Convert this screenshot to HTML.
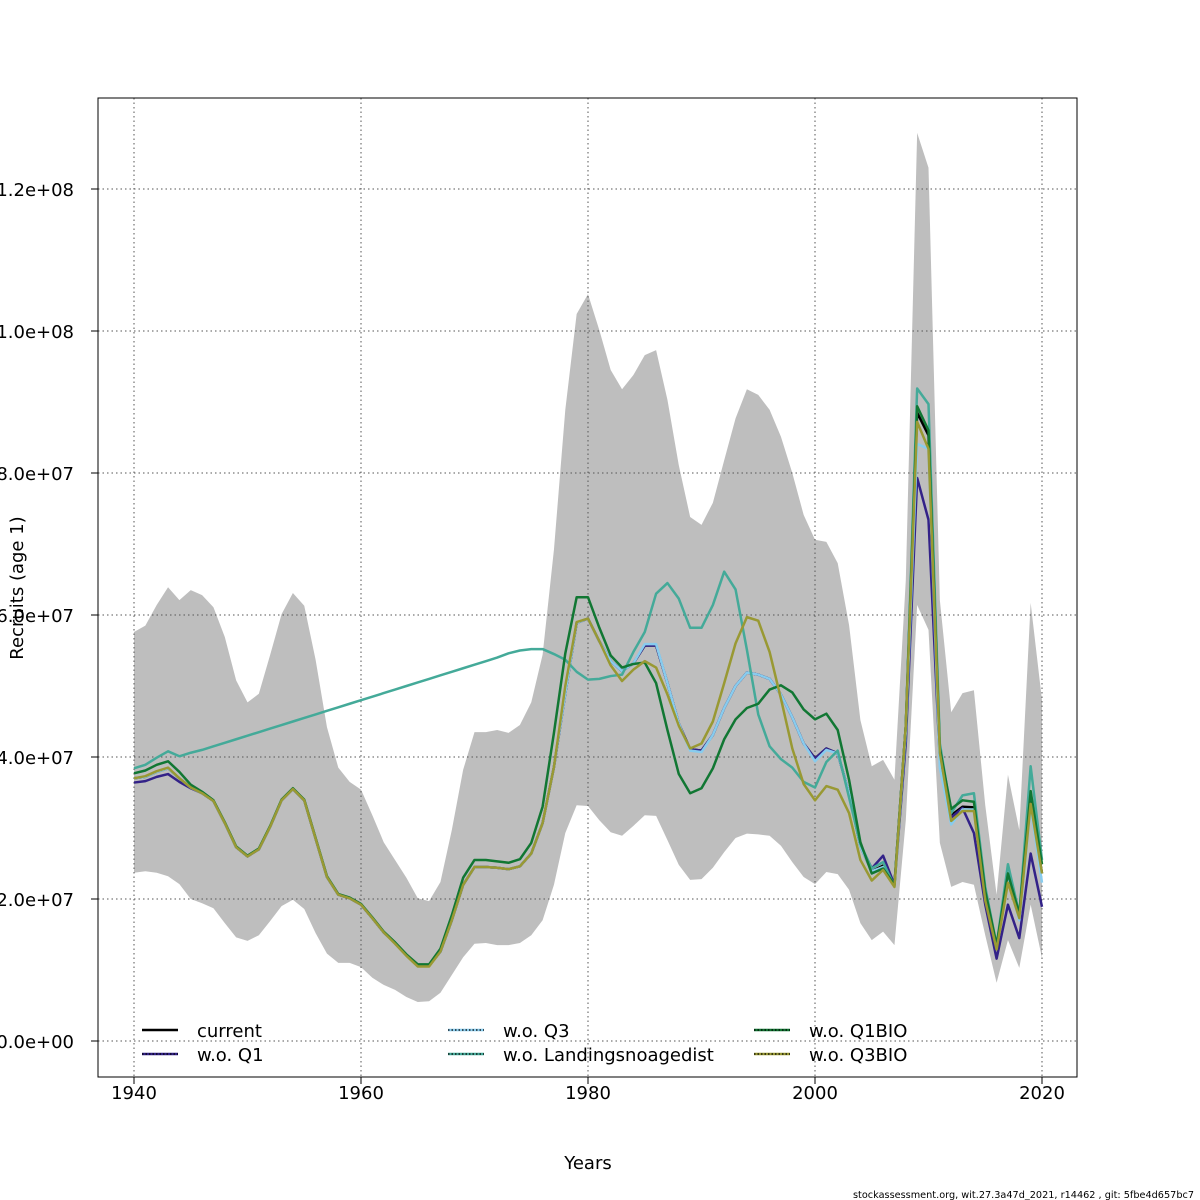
<!DOCTYPE html>
<html><head><meta charset="utf-8"><style>
html,body{margin:0;padding:0;background:#fff;}
svg{display:block;font-family:"DejaVu Sans","Liberation Sans",sans-serif;}
</style></head><body>
<svg id="chart" width="1200" height="1200" viewBox="0 0 1200 1200" xmlns="http://www.w3.org/2000/svg">
<rect width="1200" height="1200" fill="#fff"/>
<g id="band"></g><g id="grid"></g><g id="lines"></g><g id="axes"></g><g id="legend"></g>
<text x="0" y="0" transform="translate(23,588) rotate(-90)" text-anchor="middle" font-size="18">Recruits (age 1)</text>
<text x="588" y="1169" text-anchor="middle" font-size="18">Years</text>
<text x="853" y="1198" font-size="10" textLength="341" lengthAdjust="spacingAndGlyphs">stockassessment.org, wit.27.3a47d_2021, r14462 , git: 5fbe4d657bc7</text>
</svg>
<script>
const years=[];for(let y=1940;y<=2020;y++)years.push(y);
const current=[37.0,37.2,37.9,38.4,37.0,35.7,34.9,33.8,30.7,27.3,26.0,27.0,30.2,33.9,35.5,33.9,28.5,23.1,20.6,20.1,19.2,17.3,15.3,13.8,12.1,10.6,10.6,12.6,17.0,22.0,24.5,24.5,24.4,24.2,24.6,26.4,30.7,38.6,49.0,58.9,59.5,56.3,53.5,52.1,53.2,55.7,55.7,50.4,44.7,41.1,40.9,43.1,46.9,50.0,51.9,51.6,51.0,48.8,45.6,41.9,39.8,41.2,40.5,34.9,27.4,23.9,24.7,22.0,44.4,88.5,85.3,40.6,31.8,33.0,32.9,20.4,13.5,23.0,17.3,33.7,23.6];
const woQ1=[36.4,36.6,37.2,37.6,36.5,35.6,34.9,33.8,30.7,27.3,26.0,27.0,30.2,33.9,35.5,33.9,28.5,23.1,20.6,20.1,19.2,17.3,15.3,13.8,12.1,10.6,10.6,12.6,17.0,22.0,24.5,24.5,24.4,24.2,24.6,26.4,30.7,38.6,49.0,58.9,59.5,56.3,53.5,52.1,53.2,55.7,55.7,50.4,44.7,41.1,40.9,43.1,46.9,50.0,51.9,51.6,51.0,48.8,45.6,41.9,39.8,41.2,40.5,34.9,27.6,24.3,26.1,22.0,42.0,79.3,73.4,39.5,31.5,32.8,29.3,19.2,11.6,19.2,14.5,26.4,18.9];
const woQ3=[37.0,37.2,37.9,38.4,37.0,35.7,34.9,33.8,30.7,27.3,26.0,27.0,30.2,33.9,35.5,33.9,28.5,23.1,20.6,20.1,19.2,17.3,15.3,13.8,12.1,10.6,10.6,12.6,17.0,22.0,24.5,24.5,24.4,24.2,24.6,26.4,30.7,38.6,49.0,58.9,59.5,56.3,53.5,52.1,53.2,55.9,55.9,50.4,44.7,40.9,40.7,43.1,46.9,50.0,51.9,51.6,51.0,48.8,45.6,41.9,39.4,41.0,40.5,34.9,27.4,23.9,24.5,21.8,43.5,84.1,83.4,38.5,30.5,32.6,32.6,20.4,13.5,23.0,17.0,33.0,22.3];
const woLand=[38.4,38.9,39.9,40.8,40.1,40.6,41.0,41.5,42.0,42.5,43.0,43.5,44.0,44.5,45.0,45.5,46.0,46.5,47.0,47.5,48.0,48.5,49.0,49.5,50.0,50.5,51.0,51.5,52.0,52.5,53.0,53.5,54.0,54.6,55.0,55.2,55.2,54.5,53.7,52.0,50.9,51.0,51.4,51.6,54.8,57.6,63.0,64.5,62.3,58.2,58.2,61.4,66.1,63.6,55.1,46.0,41.5,39.7,38.5,36.5,35.7,39.3,40.9,34.3,27.7,24.3,25.2,21.8,44.4,91.9,89.7,41.9,32.1,34.6,34.9,21.7,13.5,24.9,17.9,38.7,25.5];
const woQ1BIO=[37.7,38.1,38.9,39.4,37.9,36.1,35.1,33.9,30.8,27.4,26.1,27.1,30.3,34.0,35.6,34.0,28.6,23.2,20.7,20.2,19.3,17.4,15.4,13.9,12.2,10.8,10.8,13.0,17.7,23.0,25.5,25.5,25.3,25.1,25.6,27.9,33.0,43.4,54.6,62.5,62.5,58.2,54.3,52.6,53.1,53.3,50.4,43.8,37.6,34.9,35.6,38.4,42.5,45.3,46.9,47.5,49.5,50.1,49.1,46.7,45.3,46.1,43.8,36.8,28.0,23.6,24.3,22.0,44.4,89.4,86.0,41.2,32.7,33.9,33.7,21.1,13.5,23.6,17.9,35.2,24.9];
const woQ3BIO=[37.0,37.3,38.0,38.5,37.0,35.7,34.9,33.8,30.7,27.3,26.0,27.0,30.2,33.9,35.5,33.9,28.5,23.1,20.6,20.1,19.2,17.3,15.3,13.7,12.0,10.5,10.5,12.6,17.0,22.0,24.5,24.5,24.4,24.2,24.6,26.4,30.7,38.6,50.0,59.0,59.5,56.3,52.9,50.7,52.3,53.5,52.6,48.8,44.4,41.2,41.9,45.0,50.4,56.0,59.7,59.2,54.8,48.2,41.2,36.2,33.9,35.9,35.4,32.1,25.5,22.6,24.1,21.7,44.4,87.2,83.4,40.6,31.0,32.4,32.4,19.8,12.9,22.3,17.3,33.4,23.6];
const ciUpper=[57.6,58.5,61.4,63.9,62.1,63.5,62.8,61.1,56.9,50.8,47.7,48.9,54.4,60.1,63.1,61.3,53.7,44.2,38.5,36.5,35.4,31.8,28.0,25.5,23.0,20.1,19.7,22.4,29.7,38.2,43.5,43.5,43.8,43.4,44.5,47.7,54.4,69.2,88.9,102.4,105.2,100.1,94.5,91.8,93.8,96.6,97.3,90.3,81.1,73.8,72.7,75.8,81.8,87.7,91.8,91.0,88.9,85.1,80.0,74.1,70.6,70.3,67.3,58.6,45.2,38.7,39.6,36.8,64.9,127.9,123.0,62.1,46.3,49.0,49.4,33.2,20.6,37.5,29.7,61.7,48.0];
const ciLower=[23.7,23.9,23.7,23.2,22.1,20.0,19.4,18.7,16.6,14.6,14.1,14.9,16.9,19.0,19.9,18.6,15.2,12.3,11.0,11.0,10.4,8.9,7.9,7.2,6.2,5.5,5.6,6.8,9.3,11.8,13.7,13.8,13.5,13.5,13.8,14.9,17.0,22.0,29.3,33.2,33.1,31.1,29.4,28.9,30.3,31.8,31.7,28.3,24.8,22.7,22.8,24.4,26.6,28.6,29.2,29.1,28.9,27.5,25.2,23.1,22.1,23.8,23.5,21.3,16.6,14.2,15.4,13.5,31.1,61.4,57.9,27.9,21.7,22.4,22.0,14.9,8.2,14.2,10.3,19.2,11.7];
const yTicks=[0,20,40,60,80,100,120];
const yTickLabels=["0.0e+00","2.0e+07","4.0e+07","6.0e+07","8.0e+07","1.0e+08","1.2e+08"];
const xTicks=[1940,1960,1980,2000,2020];

const NS="http://www.w3.org/2000/svg";
function X(yr){return 134+(yr-1940)*(1042-134)/80;}
function Y(v){return 1041-v*(1041-899)/20;}
function mk(tag,attrs,parent){const e=document.createElementNS(NS,tag);for(const k in attrs)e.setAttribute(k,attrs[k]);parent.appendChild(e);return e;}
const gBand=document.getElementById('band'),gGrid=document.getElementById('grid'),gLines=document.getElementById('lines'),gAxes=document.getElementById('axes'),gLeg=document.getElementById('legend');

let pts=years.map((y,i)=>X(y)+','+Y(ciUpper[i]));
for(let i=years.length-1;i>=0;i--)pts.push(X(years[i])+','+Y(ciLower[i]));
const band=mk('polygon',{points:pts.join(' '),fill:'#bebebe',stroke:'none'},gBand);



xTicks.forEach(t=>{const l=mk('line',{x1:X(t),x2:X(t),y1:98,y2:1077,stroke:'#555','stroke-width':1,'stroke-dasharray':'1.5,3'},gGrid);

});
yTicks.forEach(t=>{const l=mk('line',{x1:98,x2:1077,y1:Y(t),y2:Y(t),stroke:'#555','stroke-width':1,'stroke-dasharray':'1.5,3'},gGrid);

});

const series=[["current",current,"#000000"],["w.o. Q1",woQ1,"#332288"],["w.o. Q3",woQ3,"#88ccee"],["w.o. Landingsnoagedist",woLand,"#44aa99"],["w.o. Q1BIO",woQ1BIO,"#117733"],["w.o. Q3BIO",woQ3BIO,"#999933"]];
series.forEach(s=>{const p=mk('polyline',{points:years.map((y,i)=>X(y)+','+Y(s[1][i])).join(' '),fill:'none',stroke:s[2],'stroke-width':2.5,'stroke-linejoin':'round'},gLines);

});

const box=mk('rect',{x:98,y:98,width:979,height:979,fill:'none',stroke:'#000','stroke-width':1},gAxes);


xTicks.forEach(t=>{mk('line',{x1:X(t),x2:X(t),y1:1077,y2:1084,stroke:'#000'},gAxes);
const tx=mk('text',{x:X(t),y:1099,'text-anchor':'middle','font-size':18},gAxes);tx.textContent=t;

});
yTicks.forEach((t,i)=>{mk('line',{x1:91,x2:98,y1:Y(t),y2:Y(t),stroke:'#000'},gAxes);
const tx=mk('text',{x:74,y:Y(t)+7,'text-anchor':'end','font-size':18},gAxes);tx.textContent=yTickLabels[i];

});

const legPos=[[142,1030],[142,1054],[448,1030],[448,1054],[754,1030],[754,1054]];
series.forEach((s,i)=>{const [lx,ly]=legPos[i];
const g=mk('g',{},gLeg);


mk('line',{x1:lx,x2:lx+36,y1:ly,y2:ly,stroke:s[2],'stroke-width':2.5},g);
if(i>0)mk('line',{x1:lx,x2:lx+36,y1:ly,y2:ly,stroke:'#000','stroke-width':1.2,'stroke-dasharray':'1.5,2'},g);
const t=mk('text',{x:lx+55,y:ly+7,'font-size':18},g);t.textContent=s[0];});
</script>
</body></html>
